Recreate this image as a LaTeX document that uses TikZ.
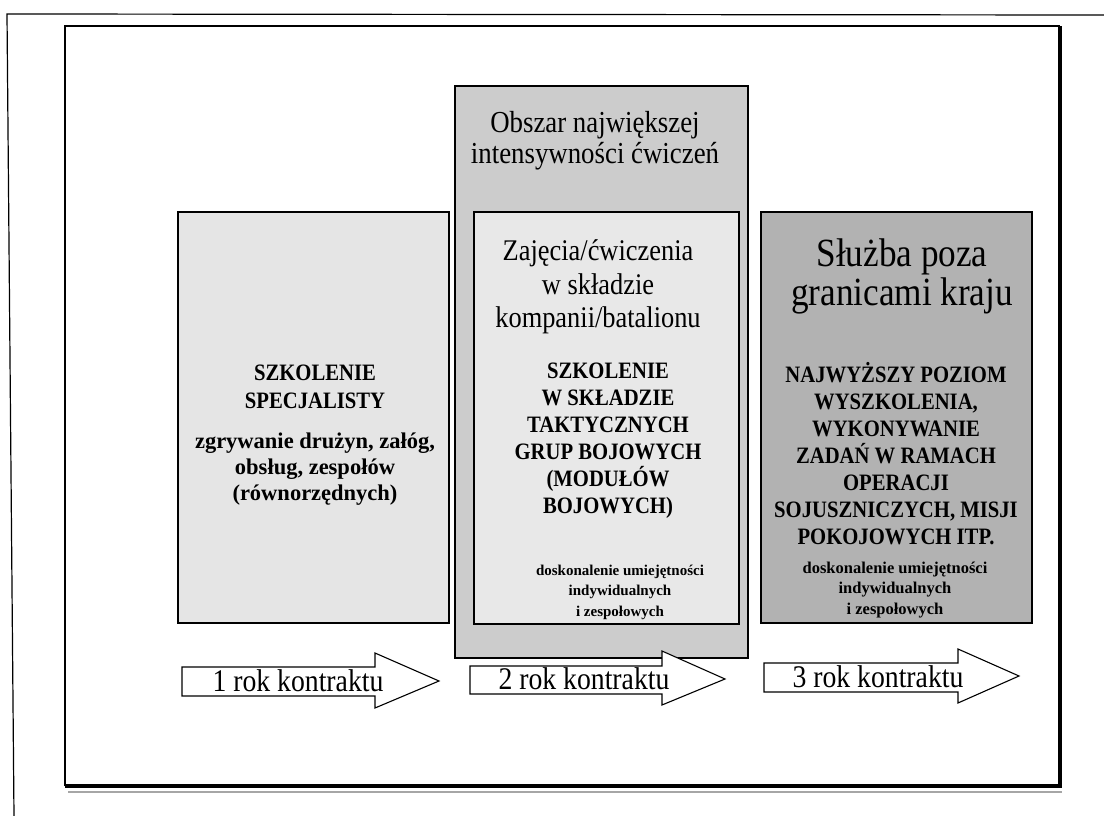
\documentclass[tikz,border=0pt]{standalone}
\usepackage{fontspec}
\setmainfont{Liberation Serif}
\newfontfamily\cond{Liberation Serif}[FakeStretch=0.88]
\definecolor{fillA}{gray}{0.90}
\definecolor{fillB}{gray}{0.80}
\definecolor{fillC}{gray}{0.70}
\definecolor{fillD}{gray}{0.91}
\begin{document}
\begin{tikzpicture}[x=1pt,y=-1pt,
  every node/.style={inner sep=0pt, outer sep=0pt},
  panel/.style={draw=black, line width=1.3pt, anchor=north west, rectangle},
  arrowbox/.style={draw=black, line width=1.1pt, fill=white, line join=miter},
  arrowlabel/.style={anchor=base, font=\cond\fontsize{31.5}{32}\selectfont},
  headline/.style={align=center, font=\cond\fontsize{30}{33}\selectfont},
  capsblock/.style={align=center, font=\cond\bfseries\fontsize{23.5}{27}\selectfont},
  smallblock/.style={align=center, font=\bfseries\fontsize{15}{20.5}\selectfont}
]
\useasboundingbox (0,0) rectangle (1104,816);
\fill[white] (0,0) rectangle (1104,816);

% scanned page edge
\draw[line width=1.2pt] (14,816) -- (7,14) -- (1104,15);

% outer frame with its shadow
\draw[line width=1.6pt] (65,786) -- (65,26) -- (1060,26);
\draw[gray!70, line width=1.4pt] (68,792) -- (1062,792);
\draw[line width=3.4pt] (65,786) -- (1060,786) -- (1060,26);

% panels
\node[panel, fill=fillA, minimum width=271pt, minimum height=411pt] (p1) at (178,212) {};
\node[panel, fill=fillB, minimum width=293pt, minimum height=572pt] (p2) at (455,86) {};
\node[panel, fill=fillD, minimum width=265pt, minimum height=412pt] (p2i) at (474,212) {};
\node[panel, fill=fillC, minimum width=271pt, minimum height=411pt] (p3) at (761,212) {};

% panel texts
\node[headline, font=\cond\fontsize{30.5}{31}\selectfont] (obszar) at (595,141)
  {Obszar największej\\intensywności ćwiczeń};

\node[capsblock, font=\cond\bfseries\fontsize{23.5}{28}\selectfont] (s1) at (315,387)
  {SZKOLENIE\\SPECJALISTY};
\node[align=center, font=\bfseries\fontsize{22.5}{26}\selectfont] (s1b) at (315,469)
  {zgrywanie drużyn, załóg,\\obsług, zespołów\\(równorzędnych)};

\node[headline, font=\cond\fontsize{30}{33.5}\selectfont] (z2) at (598,287)
  {Zajęcia/ćwiczenia\\w składzie\\kompanii/batalionu};
\node[capsblock] (s2) at (608,441)
  {SZKOLENIE\\W SKŁADZIE\\TAKTYCZNYCH\\GRUP BOJOWYCH\\(MODUŁÓW\\BOJOWYCH)};
\node[smallblock] (d2) at (620,592)
  {doskonalenie umiejętności\\indywidualnych\\i zespołowych};

\node[headline, font=\cond\fontsize{40}{39}\selectfont] (z3) at (902,276)
  {Służba poza\\granicami kraju};
\node[capsblock] (s3) at (896,454)
  {NAJWYŻSZY POZIOM\\WYSZKOLENIA,\\WYKONYWANIE\\ZADAŃ W RAMACH\\OPERACJI\\SOJUSZNICZYCH, MISJI\\POKOJOWYCH ITP.};
\node[smallblock, font=\bfseries\fontsize{16.5}{20.5}\selectfont] (d3) at (895,590)
  {doskonalenie umiejętności\\indywidualnych\\i zespołowych};

% year arrows
\draw[arrowbox] (182,667) -- (375,667) -- (375,653) -- (439,681) -- (375,708) -- (375,696) -- (182,696) -- cycle;
\draw[arrowbox] (470,666) -- (662,666) -- (662,651) -- (725,679) -- (662,705) -- (662,694) -- (470,694) -- cycle;
\draw[arrowbox] (764,663) -- (958,663) -- (958,649) -- (1019,676) -- (958,703) -- (958,692) -- (764,692) -- cycle;

\node[arrowlabel] (y1) at (298,691) {1 rok kontraktu};
\node[arrowlabel] (y2) at (584,689) {2 rok kontraktu};
\node[arrowlabel] (y3) at (878,687) {3 rok kontraktu};
\end{tikzpicture}
\end{document}
